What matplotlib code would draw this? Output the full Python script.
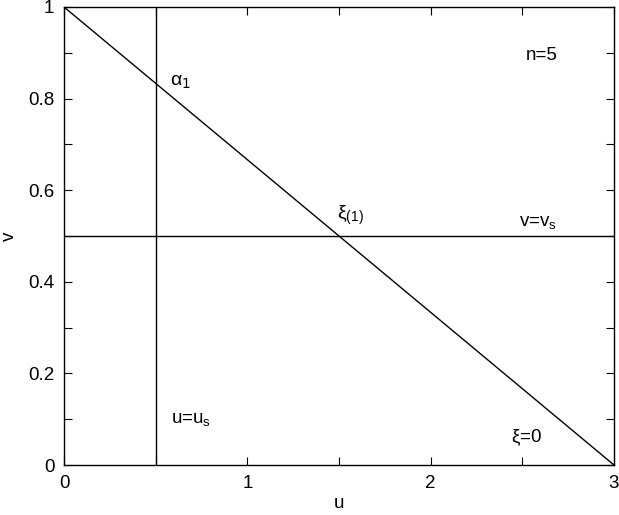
import numpy as np
import matplotlib
matplotlib.use("Agg")
from matplotlib import pyplot as plt
from matplotlib.ticker import MultipleLocator

plt.rcParams['font.family'] = ['Liberation Sans', 'DejaVu Sans']
plt.rcParams['mathtext.fontset'] = 'custom'
plt.rcParams['mathtext.rm'] = 'Liberation Sans'
plt.rcParams['mathtext.it'] = 'Liberation Serif'
plt.rcParams['mathtext.default'] = 'rm'

# xi = 0 line : u + 3v = 3
line_u = [0, 3]
line_v = [1, 0]
u_s = 0.5
v_s = 0.5

fig = plt.figure(figsize=(6.19, 5.15), dpi=100)
ax = fig.add_axes([64/619, 1-465/515, 550/619, 458/515])

ax.plot(line_u, line_v, color='black', lw=1)
ax.axvline(u_s, color='black', lw=1)
ax.axhline(v_s, color='black', lw=1)

ax.set_xlim(0, 3)
ax.set_ylim(0, 1)
ax.xaxis.set_major_locator(MultipleLocator(1))
ax.xaxis.set_minor_locator(MultipleLocator(0.5))
ax.yaxis.set_major_locator(MultipleLocator(0.2))
ax.yaxis.set_minor_locator(MultipleLocator(0.1))
ax.xaxis.set_major_formatter(plt.FuncFormatter(lambda x, p: '%g' % x))
ax.yaxis.set_major_formatter(plt.FuncFormatter(lambda x, p: '%g' % x))
ax.tick_params(which='both', direction='in', top=True, right=True, labelsize=13.5, width=0.8)
ax.tick_params(which='major', length=6, pad=7)
ax.tick_params(which='minor', length=6)
for s in ax.spines.values():
    s.set_linewidth(1)

ax.set_xlabel('u', fontsize=13.5, labelpad=2)
ax.set_ylabel('v', fontsize=13.5, labelpad=7)

ax.text(0.58, 0.84, r'$\alpha_{\mathsf{1}}$', fontsize=14, va='center', family=['DejaVu Sans'])
ax.text(2.52, 0.895, 'n=5', fontsize=13.5, va='center')
ax.text(1.49, 0.545, r'$\xi_{(1)}$', fontsize=14, va='center')
ax.text(2.48, 0.53, r'v=v$_{\rm s}$', fontsize=13.5, va='center')
ax.text(0.585, 0.10, r'u=u$_{\rm s}$', fontsize=13.5, va='center')
ax.text(2.44, 0.06, r'$\xi$=0', fontsize=13.5, va='center')

fig.savefig('out.png', dpi=100)
